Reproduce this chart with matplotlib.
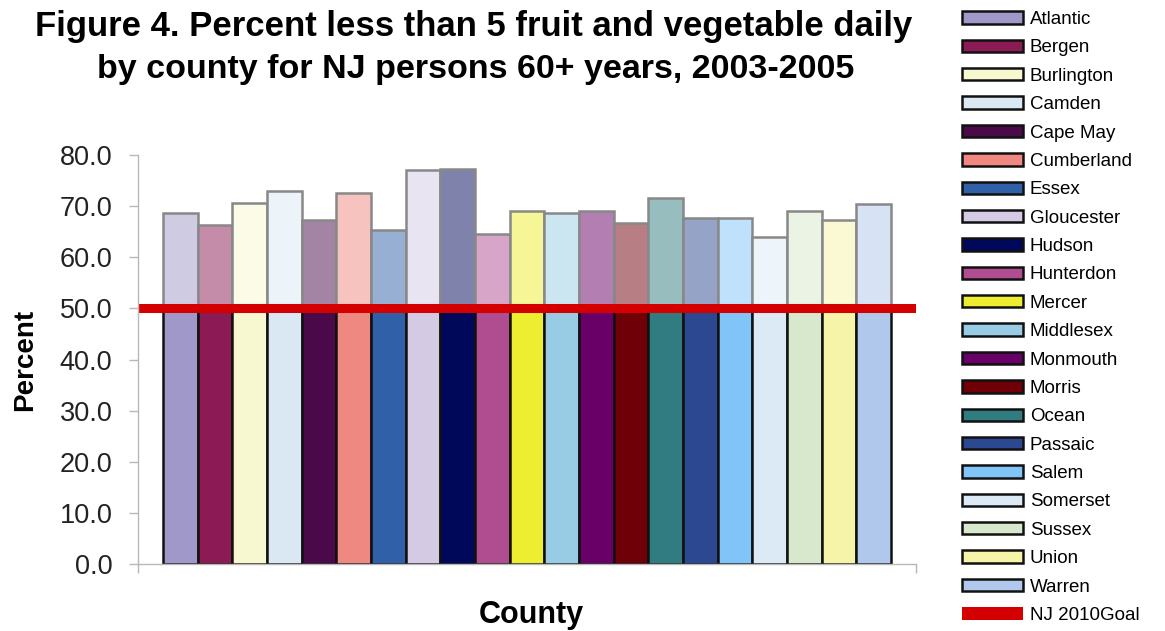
import matplotlib
matplotlib.use("Agg")
import matplotlib.pyplot as plt
from matplotlib.patches import Patch

counties = ["Atlantic", "Bergen", "Burlington", "Camden", "Cape May", "Cumberland",
            "Essex", "Gloucester", "Hudson", "Hunterdon", "Mercer", "Middlesex",
            "Monmouth", "Morris", "Ocean", "Passaic", "Salem", "Somerset",
            "Sussex", "Union", "Warren"]
percent = [68.7, 66.3, 70.6, 72.9, 67.3, 72.5, 65.4, 77.1, 77.2, 64.5, 69.1,
           68.7, 69.1, 66.7, 71.5, 67.6, 67.6, 63.9, 69.1, 67.3, 70.5]
colors = ["#A098C8", "#8B1A55", "#F8F8D0", "#DAE8F4", "#4A0A4A", "#EE8880",
          "#3060A8", "#D4CAE4", "#00085A", "#B04C90", "#EEEE30", "#98CCE4",
          "#680068", "#700008", "#307C80", "#2C4890", "#80C4F8", "#DCEAF6",
          "#D8E8CC", "#F6F4A8", "#B0C8EC"]
goal = 50.0
goal_label = "NJ 2010Goal"
yticks = [0, 10, 20, 30, 40, 50, 60, 70, 80]

W, H = 1165, 631
fig = plt.figure(figsize=(W / 100, H / 100), dpi=100)
fig.patch.set_facecolor("white")
plt.rcParams["font.family"] = ["Liberation Sans", "DejaVu Sans"]

left, right, top, bottom = 138, 916, 155, 564.3
ax = fig.add_axes([left / W, (H - bottom) / H, (right - left) / W, (bottom - top) / H])

x = list(range(len(counties)))
ax.bar(x, percent, width=1.0, color=colors, edgecolor="#111111", linewidth=1.8, zorder=2)

# washed-out band above the goal
ax.axhspan(goal, 80, facecolor="white", alpha=0.5, edgecolor="none", zorder=3)
ax.axhline(goal, color="#D40000", linewidth=6.5, zorder=4)

pad = 0.72
ax.set_xlim(-0.5 - pad, len(counties) - 0.5 + pad)
ax.set_ylim(0, 80)
ax.set_yticks(yticks)
ax.set_yticklabels([f"{v:.1f}" for v in yticks], fontsize=19.5, color="#222222")
ax.set_xticks([-0.5 - pad, len(counties) - 0.5 + pad])
ax.set_xticklabels([])
ax.tick_params(axis="both", direction="out", length=6.5, width=1, color="#B8B8B8")
ax.tick_params(axis="y", pad=12)
for s in ["top", "right"]:
    ax.spines[s].set_visible(False)
for s in ["left", "bottom"]:
    ax.spines[s].set_color("#B8B8B8")
    ax.spines[s].set_linewidth(1)
    ax.spines[s].set_zorder(5)

fig.text(25 / W, 1 - 360 / H, "Percent", rotation=90, fontsize=20, fontweight="bold",
         ha="center", va="center")
fig.text(531 / W, 1 - 623 / H, "County", fontsize=22, fontweight="bold",
         ha="center", va="baseline")

fig.text(474 / W, 1 - 36 / H, "Figure 4. Percent less than 5 fruit and vegetable daily",
         fontsize=25, fontweight="bold", ha="center", va="baseline")
fig.text(476 / W, 1 - 78 / H, "by county for NJ persons 60+ years, 2003-2005",
         fontsize=24.5, fontweight="bold", ha="center", va="baseline")

handles = [Patch(facecolor=c, edgecolor="#111111", linewidth=1.8) for c in colors]
handles.append(Patch(facecolor="#D40000", edgecolor="none"))
labels = counties + [goal_label]
fig.legend(handles, labels, loc="upper left", bbox_to_anchor=(962 / W, 1 - 11 / H),
           frameon=False, fontsize=13.5, handlelength=3.25, handleheight=0.64,
           handletextpad=0.37, labelspacing=0.607, borderaxespad=0, borderpad=0)

fig.savefig("out.png", dpi=100, facecolor="white")
